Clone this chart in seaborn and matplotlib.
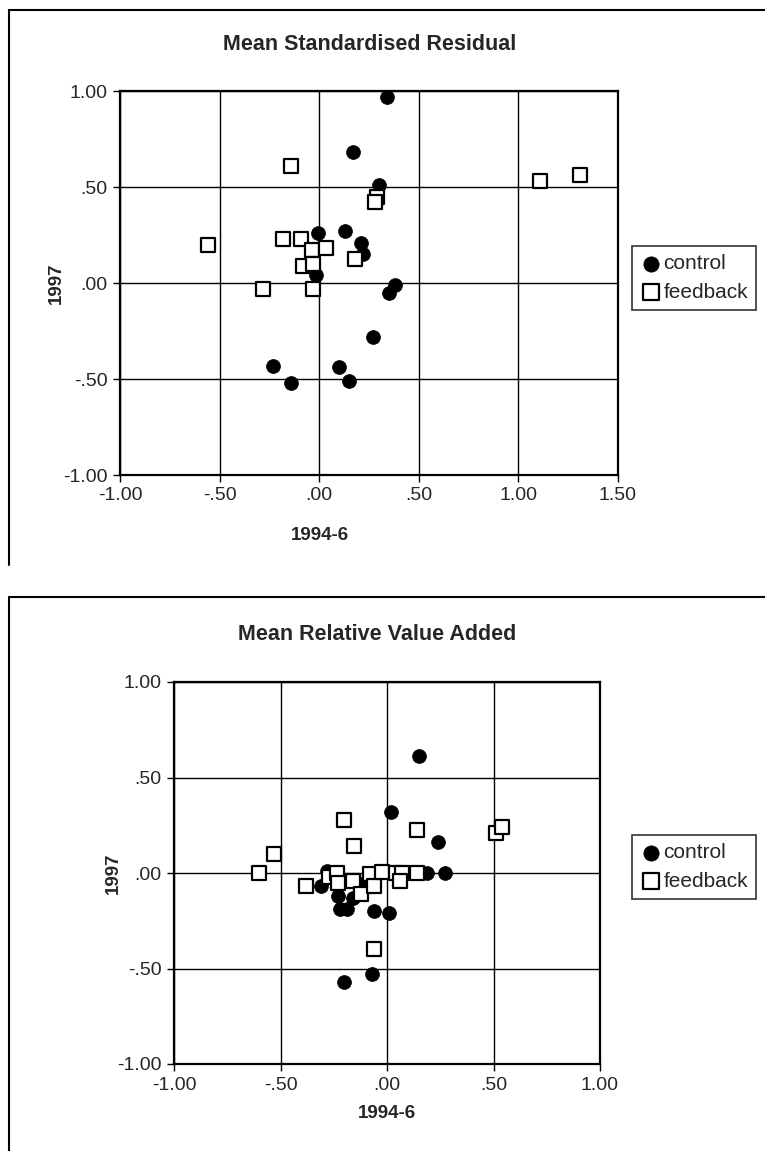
import numpy as np
import pandas as pd
import matplotlib
matplotlib.use('Agg')
import matplotlib.pyplot as plt
import seaborn as sns
from matplotlib.lines import Line2D

# -- Mean Standardised Residual (top panel) --
resid_control_x = [0.34, 0.17, 0.30, -0.005, 0.13, 0.21, 0.22, -0.015,
                   0.35, 0.38, 0.27, -0.23, -0.14, 0.10, 0.15]
resid_control_y = [0.97, 0.68, 0.51, 0.26, 0.27, 0.21, 0.15, 0.04,
                   -0.05, -0.01, -0.28, -0.43, -0.52, -0.44, -0.51]
resid_feedback_x = [-0.14, 0.29, 0.28, -0.56, -0.18, -0.09, -0.035, 0.035,
                    0.18, -0.08, -0.03, -0.28, -0.03, 1.11, 1.31]
resid_feedback_y = [0.61, 0.45, 0.42, 0.20, 0.23, 0.23, 0.17, 0.18,
                    0.125, 0.09, 0.10, -0.03, -0.03, 0.53, 0.56]

# -- Mean Relative Value Added (bottom panel) --
rva_control_x = [0.02, 0.15, 0.24, 0.27, 0.19, -0.02, -0.28, -0.31, -0.23,
                 -0.22, -0.19, -0.16, -0.11, -0.06, 0.01, -0.20, -0.07]
rva_control_y = [0.32, 0.61, 0.16, 0.00, 0.00, 0.01, 0.01, -0.07, -0.12,
                 -0.19, -0.19, -0.13, -0.05, -0.20, -0.21, -0.57, -0.53]
rva_feedback_x = [-0.60, -0.53, -0.20, -0.155, 0.14, 0.51, 0.54, -0.38,
                  -0.27, -0.235, -0.23, -0.16, -0.12, -0.08, -0.06, -0.025,
                  0.04, 0.07, 0.06, 0.14, -0.06]
rva_feedback_y = [0.00, 0.10, 0.28, 0.14, 0.225, 0.21, 0.24, -0.07,
                  -0.02, 0.00, -0.05, -0.04, -0.11, -0.005, -0.07, 0.005,
                  0.00, 0.00, -0.04, 0.00, -0.40]

# -- Tick labels --
TOP_XTICKS   = [-1.0, -0.5, 0.0, 0.5, 1.0, 1.5]
TOP_XLABELS  = ['-1.00', '-.50', '.00', '.50', '1.00', '1.50']
UNIT_TICKS   = [-1.0, -0.5, 0.0, 0.5, 1.0]
UNIT_LABELS  = ['-1.00', '-.50', '.00', '.50', '1.00']

W, H = 765, 1151

sns.set_style('white')
plt.rcParams['font.family'] = ['Liberation Sans', 'DejaVu Sans']


def px_rect(left, top, right, bottom):
    return [left / W, 1 - bottom / H, (right - left) / W, (bottom - top) / H]


def draw_panel(fig, rect, title, title_xy, cx, cy, fx, fy,
               xticks, xlabels, xlim, xlabel_pos, ylabel_pos, legend_xy):
    ax = fig.add_axes(rect)
    df_c = pd.DataFrame({'x': cx, 'y': cy})
    df_f = pd.DataFrame({'x': fx, 'y': fy})
    sns.scatterplot(data=df_c, x='x', y='y', ax=ax, marker='o', s=100,
                    color='black', edgecolor='black', linewidth=0.5,
                    label='control', zorder=3)
    sns.scatterplot(data=df_f, x='x', y='y', ax=ax, marker='s', s=100,
                    color='white', edgecolor='black', linewidth=1.6,
                    label='feedback', zorder=4)

    ax.set_xlim(*xlim)
    ax.set_ylim(-1, 1)
    ax.set_xticks(xticks)
    ax.set_xticklabels(xlabels)
    ax.set_yticks(UNIT_TICKS)
    ax.set_yticklabels(UNIT_LABELS)
    ax.tick_params(direction='out', length=5, width=1, labelsize=14,
                   bottom=True, left=True, color='black', pad=4)
    ax.grid(True, color='black', linewidth=1.0)
    ax.set_axisbelow(True)
    for spine in ax.spines.values():
        spine.set_color('black')
        spine.set_linewidth(1.6)

    ax.set_xlabel('1994-6', fontsize=13.5, fontweight='bold')
    ax.set_ylabel('1997', fontsize=13.5, fontweight='bold')
    ax.xaxis.set_label_coords(*xlabel_pos)
    ax.yaxis.set_label_coords(*ylabel_pos)

    fig.text(title_xy[0] / W, 1 - title_xy[1] / H, title, ha='center',
             va='center', fontsize=15.5, fontweight='bold')

    leg = ax.legend(loc='upper left',
                    bbox_to_anchor=(legend_xy[0] / W, 1 - legend_xy[1] / H),
                    bbox_transform=fig.transFigure, frameon=True,
                    fancybox=False, edgecolor='black', fontsize=15,
                    handletextpad=0.1, handlelength=1.0, labelspacing=0.45,
                    borderpad=0.4, borderaxespad=0, markerscale=1.1)
    leg.get_frame().set_linewidth(1.2)
    return ax


fig = plt.figure(figsize=(W / 100, H / 100), dpi=100)

# outer chart frames (left and top edges only show in the scan)
for top, bottom in [(10, 565), (597, H)]:
    fig.add_artist(Line2D([9 / W, 9 / W], [1 - top / H, 1 - bottom / H],
                          transform=fig.transFigure, color='black', lw=1.5))
    fig.add_artist(Line2D([9 / W, 1.0], [1 - top / H, 1 - top / H],
                          transform=fig.transFigure, color='black', lw=1.5))

draw_panel(fig, px_rect(120, 91, 618, 475), 'Mean Standardised Residual',
           (370, 45), resid_control_x, resid_control_y,
           resid_feedback_x, resid_feedback_y,
           TOP_XTICKS, TOP_XLABELS, (-1, 1.5),
           ((320 - 120) / 498, (475 - 527) / 384),
           ((65 - 120) / 498, 0.5), (632, 246))

draw_panel(fig, px_rect(174, 682, 600, 1064), 'Mean Relative Value Added',
           (377, 635), rva_control_x, rva_control_y,
           rva_feedback_x, rva_feedback_y,
           UNIT_TICKS, UNIT_LABELS, (-1, 1),
           ((387 - 174) / 426, (1064 - 1105) / 382),
           ((122 - 174) / 426, 0.5), (632, 835))

fig.savefig('out.png', dpi=100)
plt.close(fig)
